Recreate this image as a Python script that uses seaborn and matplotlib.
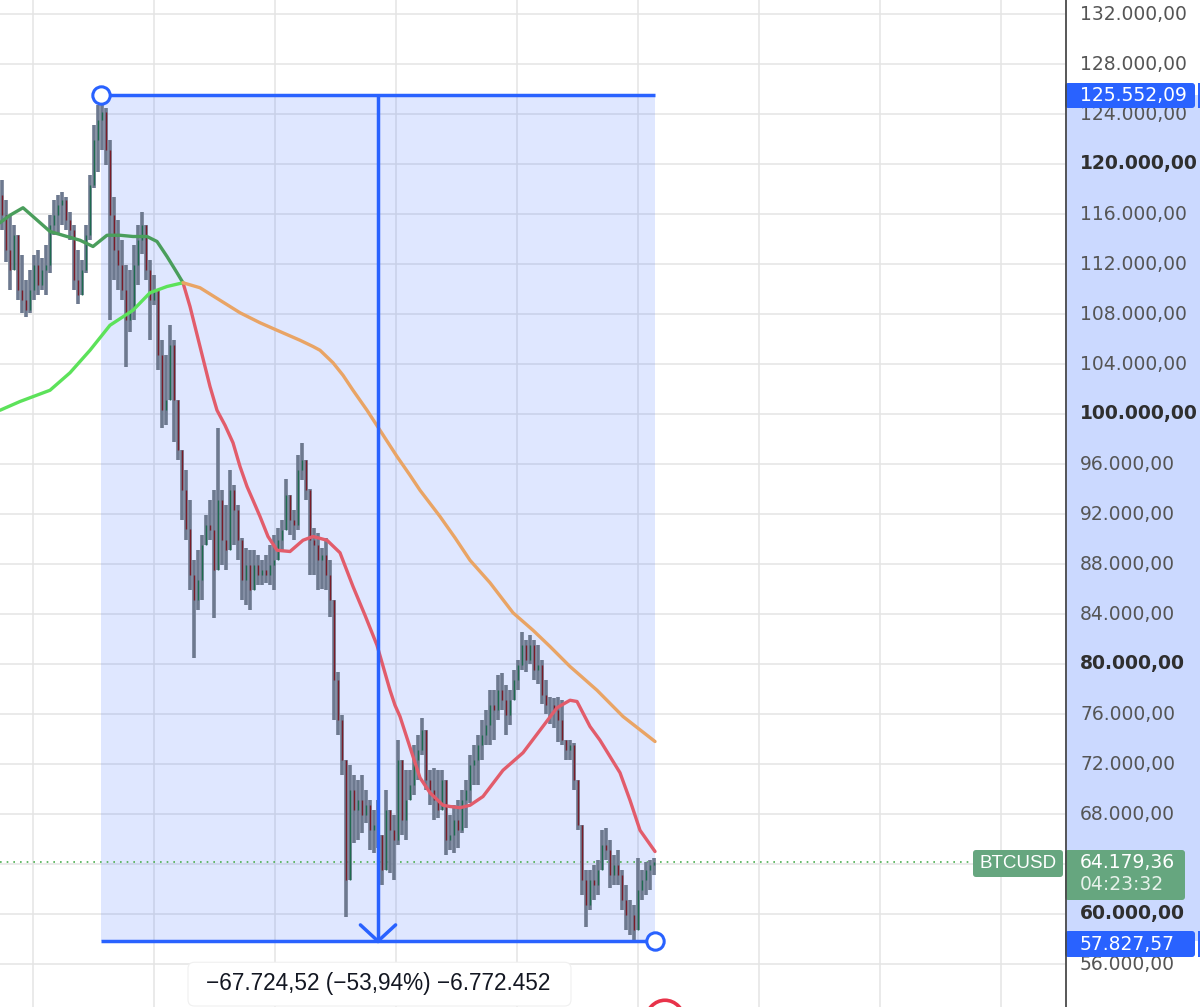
import numpy as np
import pandas as pd
import seaborn as sns
import matplotlib
matplotlib.use("Agg")
import matplotlib.pyplot as plt
from matplotlib.patches import FancyBboxPatch, Rectangle, Arc

sns.set_theme(style="white")
plt.rcParams['font.family'] = ['DejaVu Sans']

# ---------------- data (prices in thousands USD) ----------------
first_open = 117.5
highs = [118.7,117.1,115.9,115.1,113.9,112.7,110.7,111.5,112.7,113.1,
         112.5,113.5,115.9,117.1,117.5,117.8,117.4,116.2,115.1,113.1,
         112.3,115.1,119.1,123.1,124.7,125.552,124.5,121.9,117.4,115.5,
         113.9,111.9,111.5,113.5,115.1,116.2,115.1,112.3,111.1,109.9,
         105.9,104.7,107.1,105.9,101.1,96.7,95.5,93.1,88.3,89.1,
         90.3,91.9,93.1,93.9,98.9,93.9,92.7,95.5,94.3,92.7,
         90.1,89.3,89.1,89.1,88.7,88.3,88.7,89.5,90.3,90.9,
         91.5,94.8,93.1,92.3,96.7,97.7,95.9,94.0,90.9,90.5,
         89.3,90.1,88.3,85.1,79.4,75.9,71.9,71.9,71.1,70.7,
         71.1,69.9,69.1,68.3,69.1,65.1,69.9,68.3,67.9,73.9,
         71.1,71.5,71.5,73.5,74.3,75.7,74.7,71.5,71.7,71.5,
         71.5,69.1,67.9,68.7,69.1,69.9,70.7,72.7,73.5,74.3,
         75.5,76.3,77.9,77.9,79.1,79.3,78.3,77.9,79.5,80.3,
         82.6,81.9,82.3,81.9,81.5,80.3,78.7,77.4,77.3,77.4,
         77.1,73.9,73.9,73.7,70.7,67.1,63.5,63.5,63.9,64.3,
         66.7,66.9,65.9,64.7,65.1,63.5,62.3,61.1,60.7,64.5,
         63.5,64.2,64.3,64.5]
lows = [114.7,112.2,109.9,112.2,109.1,108.1,107.8,108.1,109.1,109.5,
        109.9,109.5,111.3,114.3,114.5,115.1,114.7,113.9,109.9,108.8,
        109.5,111.3,113.9,118.1,119.4,121.1,119.9,107.5,110.7,109.9,
        109.1,103.8,106.6,107.5,110.3,112.8,110.7,105.9,108.7,103.5,
        98.9,99.1,101.1,97.8,96.3,91.5,89.9,85.9,80.5,84.3,
        85.1,89.5,89.9,83.7,88.3,87.9,87.5,89.5,89.5,88.3,
        85.1,84.7,84.3,86.3,86.3,86.3,86.5,86.3,85.9,88.7,
        89.1,90.7,90.3,89.9,90.7,94.7,93.1,87.1,87.1,85.9,
        86.0,85.9,83.8,75.5,74.3,71.1,59.8,62.7,65.7,65.9,
        66.5,67.3,65.1,64.9,65.3,62.3,63.5,63.3,62.7,65.5,
        66.3,65.9,69.2,69.5,70.7,72.7,69.9,68.7,67.5,67.7,
        69.9,64.7,65.1,64.9,65.3,66.5,66.9,68.9,70.3,70.3,
        72.3,73.5,73.5,73.9,75.5,76.3,74.3,75.1,77.5,77.9,
        79.5,79.4,80.0,78.7,78.4,76.8,76.0,75.2,74.9,73.8,
        73.5,72.3,72.3,69.9,66.7,61.5,59.0,60.3,61.1,61.5,
        63.5,64.3,62.1,62.3,62.3,60.3,58.7,58.3,57.828,58.7,
        61.1,61.5,61.9,63.1]
closes = [115.9,113.1,111.5,114.3,109.9,109.1,108.3,109.9,111.9,110.3,
          111.5,111.9,115.1,115.9,116.7,117.1,115.5,114.7,110.7,109.5,
          111.5,114.3,118.3,121.9,123.5,124.2,121.1,115.9,113.1,111.9,
          109.9,107.5,108.3,111.9,113.9,115.1,111.5,109.1,109.9,104.7,
          100.3,101.1,105.5,101.1,97.1,93.9,90.8,87.1,85.1,86.7,
          89.5,91.1,90.7,87.5,93.1,89.9,89.1,93.9,92.3,89.9,
          86.7,87.9,85.9,87.9,87.1,87.5,87.1,87.9,88.3,89.9,
          90.7,93.5,91.5,91.1,95.5,96.3,93.9,89.9,89.5,88.3,
          88.7,87.1,85.1,78.7,75.5,72.3,62.7,69.9,68.3,69.1,
          67.9,68.7,66.7,67.1,66.3,63.5,68.3,66.7,65.9,72.3,
          67.5,69.1,70.3,72.3,73.1,74.7,70.7,69.9,69.1,68.3,
          70.7,65.9,66.3,67.5,66.7,69.1,69.9,71.9,72.3,73.5,
          74.3,75.1,76.7,76.3,77.9,77.1,75.9,77.1,78.7,79.9,
          81.5,80.3,81.5,79.5,79.9,77.5,76.7,76.7,76.3,75.5,
          73.9,73.1,73.5,70.7,67.1,62.7,60.7,62.7,62.3,63.5,
          65.5,65.1,63.1,63.9,63.1,61.1,59.9,59.9,58.7,61.9,
          62.7,63.5,63.9,64.179]

fast_idx = [-0.5,2,5.25,7.75,12,16.25,19.5,22.75,26.25,29.5,32.75,36.25,38.75,41.25,
            43.75,45.25,47,49.5,52,53.75,55.75,57.75,59.5,61.25,62.75,64.5,66.5,68.75,72,
            75.25,77.75,81.25,84.5,87.75,90.75,93.75,97,98.25,99.5,102.75,104.5,107,110.25,
            112,114.5,117,120.25,125.25,130.25,134.5,138.75,142,143.75,147,149.5,152,154.5,
            157,159.5,163.25]
fast_val = [115.3,115.9,116.5,115.8,114.6,114.2,113.9,113.4,114.3,114.3,114.2,114.2,113.8,
            112.6,111.3,110.5,108.6,105.4,102.2,100.3,99.1,97.7,95.8,94.2,93.1,91.8,90.2,
            89.1,89.0,89.9,90.2,89.9,88.9,86.2,83.9,81.5,77.9,76.7,75.8,72.6,70.9,69.7,68.7,
            68.6,68.5,68.7,69.4,71.5,72.9,74.7,76.5,77.1,77.0,75.0,73.9,72.6,71.3,69.1,66.7,
            65.0]
slow_idx = [-0.5,4.5,12,17,22,27,32.75,37,41.25,45.25,49.5,54.5,59.5,64.5,68.75,74.5,
            77.75,79.5,82.75,85.25,87.75,91.25,94.5,98.75,102,104.5,109.5,113.25,117,122,
            127.75,132.75,137,142,144.5,148.75,155.25,163.25]
slow_val = [100.3,101.0,101.9,103.3,105.1,107.1,108.3,109.7,110.2,110.5,110.1,109.1,108.1,
            107.3,106.7,105.9,105.4,105.1,104.1,103.1,101.9,100.3,98.7,96.6,95.1,93.9,91.8,
            90.1,88.3,86.5,84.1,82.7,81.4,79.8,79.1,77.9,75.8,73.8]
cross_idx = 45.25

peak_price = 125552.09
low_price = 57827.57
last_price = 64179.36
peak_idx, end_idx, arrow_idx = 24.75, 163.25, 94
price_ticks = list(range(56000, 132001, 4000))
measure_text = "\u221267.724,52 (\u221253,94%) \u22126.772.452"
symbol = "BTCUSD"
countdown = "04:23:32"

# ---------------- frame ----------------
n = len(closes)
idx = np.arange(n)
c = np.array(closes) * 1000
h = np.array(highs) * 1000
l = np.array(lows) * 1000
o = np.concatenate([[first_open * 1000], c[:-1]])
df = pd.DataFrame({"i": idx, "open": o, "high": h, "low": l, "close": c})

BLUE = "#2962ff"
X0, X1 = -0.5, 265.75
Y0, Y1 = 52560, 133120

fig = plt.figure(figsize=(12, 10.07), dpi=100)
ax = fig.add_axes([0, 0, 1065 / 1200, 1])
axr = fig.add_axes([1065 / 1200, 0, 135 / 1200, 1])

ax.set_xlim(X0, X1)
ax.set_ylim(Y0, Y1)
for s in ax.spines.values():
    s.set_visible(False)
ax.set_xticks([7.75 + 30.25 * k for k in range(9)])
ax.set_yticks(price_ticks)
ax.tick_params(length=0, labelbottom=False, labelleft=False)
ax.grid(True, color="#e4e4e4", lw=1.1)
ax.set_axisbelow(True)

# measurement shading
ax.add_patch(Rectangle((peak_idx, low_price), end_idx - peak_idx, peak_price - low_price,
                       facecolor=(41/255, 98/255, 1, 0.15), edgecolor="none", zorder=1))

# candles
top = np.maximum.reduce([df.high, df.open, df.close])
bot = np.minimum.reduce([df.low, df.open, df.close])
ax.vlines(df.i, bot, top, colors="#6d798f", lw=2.6, zorder=3)
up = df.close >= df.open
body_col = np.where(up, "#1e6b4f", "#7a1c28")
ax.vlines(df.i, np.minimum(df.open, df.close), np.maximum(df.open, df.close),
          colors=body_col, lw=1.0, zorder=4)

# moving averages
fi = np.array(fast_idx); fv = np.array(fast_val) * 1000
si = np.array(slow_idx); sv = np.array(slow_val) * 1000
m1 = fi <= cross_idx; m2 = fi >= cross_idx
sns.lineplot(x=fi[m1], y=fv[m1], ax=ax, color="#4a9e5c", lw=2.4, estimator=None, sort=False, zorder=5)
sns.lineplot(x=fi[m2], y=fv[m2], ax=ax, color="#e25c6b", lw=2.4, estimator=None, sort=False, zorder=5)
k1 = si <= cross_idx; k2 = si >= cross_idx
sns.lineplot(x=si[k1], y=sv[k1], ax=ax, color="#5ce25a", lw=2.4, estimator=None, sort=False, zorder=5)
sns.lineplot(x=si[k2], y=sv[k2], ax=ax, color="#e9a465", lw=2.4, estimator=None, sort=False, zorder=5)
for line in ax.get_lines():
    line.set_solid_joinstyle("round")
    line.set_solid_capstyle("round")

# last price dotted line
ax.hlines(last_price, X0, 242.5, colors="#4caf50", linestyles=(0, (1, 3)), lw=1.2, zorder=2)

# measurement tool lines
ax.hlines([peak_price, low_price], peak_idx, end_idx, colors=BLUE, lw=2.5, zorder=7)
ax.vlines(arrow_idx, low_price, peak_price, colors=BLUE, lw=2.5, zorder=7)
ax.plot([arrow_idx - 4.4, arrow_idx, arrow_idx + 4.4],
        [low_price + 1300, low_price, low_price + 1300], color=BLUE, lw=2.5, zorder=7,
        solid_joinstyle="miter")
ax.plot([peak_idx, end_idx], [peak_price, low_price], "o", ms=12.5, mfc="white", mec=BLUE,
        mew=2.2, ls="none", zorder=8, clip_on=False)

# BTCUSD tag
ax.add_patch(FancyBboxPatch((242.75, 62960), 265.25 - 242.75, 2160,
                            boxstyle="round,pad=0,rounding_size=0.8", mutation_aspect=320,
                            facecolor="#66a67f", edgecolor="none", zorder=9, clip_on=False))
ax.text(253.9, 64040, symbol, color="white", fontsize=13.5, ha="center", va="center",
        family=["Liberation Sans", "DejaVu Sans"], zorder=10)

# measurement label
ax.add_patch(FancyBboxPatch((46.5, 52640), 142.25 - 46.5, 3500,
                            boxstyle="round,pad=0,rounding_size=1.6", mutation_aspect=320,
                            facecolor="white", edgecolor="#f0f0f0", lw=0.8, zorder=9))
ax.text(94, 54420, measure_text, color="#131722", fontsize=16.3, ha="center", va="center",
        family=["Liberation Sans", "DejaVu Sans"], zorder=10)

# red arc at bottom edge
ax.add_patch(Arc((165.75, 51500), 9.5, 3200, theta1=10, theta2=170, color="#e8334a",
                 lw=2.6, zorder=9))

# ---------------- price scale ----------------
axr.set_xlim(0, 135)
axr.set_ylim(Y0, Y1)
axr.set_axis_off()
axr.add_patch(Rectangle((0, low_price), 135, peak_price - low_price,
                        facecolor=(41/255, 98/255, 1, 0.24), edgecolor="none", zorder=1))

def fmt(v):
    s = f"{v:,.2f}"
    return s.replace(",", "X").replace(".", ",").replace("X", ".")

for v in price_ticks:
    bold = v % 20000 == 0
    axr.text(15, v, fmt(v), fontsize=13.5, ha="left", va="center",
             color="#2f2f2f" if bold else "#555555",
             fontweight="bold" if bold else "normal", zorder=3)

def tag(y_top, height, width, color):
    axr.add_patch(FancyBboxPatch((0, y_top - height), width, height,
                                 boxstyle="round,pad=0,rounding_size=3", mutation_aspect=80,
                                 facecolor=color, edgecolor="none", zorder=5, clip_on=False))

tag(126480, 2000, 130, BLUE)
axr.add_patch(Rectangle((132.5, 124480), 3, 2000, facecolor=BLUE, edgecolor="none", zorder=5))
axr.text(15, peak_price - 60, fmt(peak_price), color="white", fontsize=13.5, ha="left",
         va="center", zorder=6)

tag(58640, 2080, 130, BLUE)
axr.add_patch(Rectangle((132.5, 56560), 3, 2080, facecolor=BLUE, edgecolor="none", zorder=5))
axr.text(15, 57600, fmt(low_price), color="white", fontsize=13.5, ha="left",
         va="center", zorder=6)

tag(65120, 4000, 120, "#66a67f")
axr.text(15, 64140, fmt(last_price), color="white", fontsize=13.5, ha="left",
         va="center", zorder=6)
axr.text(15, 62330, countdown, color="#e6f1ea", fontsize=13.5, ha="left",
         va="center", zorder=6)

axr.axvline(0.6, color="#4a4a4a", lw=1.3, zorder=7)

fig.savefig("out.png", dpi=100, facecolor="white")
